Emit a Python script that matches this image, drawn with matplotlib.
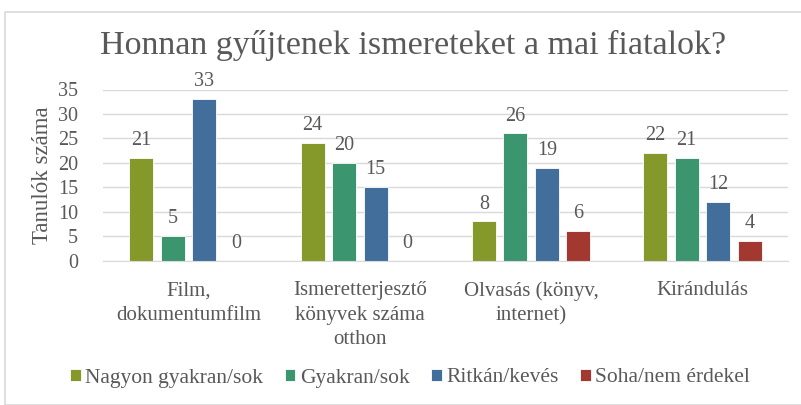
import matplotlib
matplotlib.use("Agg")
import matplotlib.pyplot as plt
import numpy as np
from matplotlib.patches import Rectangle

categories = ["Film,\ndokumentumfilm", "Ismeretterjesztő\nkönyvek száma\notthon",
              "Olvasás (könyv,\ninternet)", "Kirándulás"]
series_names = ["Nagyon gyakran/sok", "Gyakran/sok", "Ritkán/kevés", "Soha/nem érdekel"]
values = [
    [21, 24, 8, 22],
    [5, 20, 26, 21],
    [33, 15, 19, 12],
    [0, 0, 6, 4],
]
colors = ["#849929", "#3B9670", "#426E9B", "#A33830"]
yticks = [0, 5, 10, 15, 20, 25, 30, 35]

plt.rcParams['font.family'] = ['Liberation Serif', 'DejaVu Serif']
txt = "#595959"

W, H = 801, 405
fig = plt.figure(figsize=(W / 100, H / 100), dpi=100)
fig.patches.append(Rectangle((5 / W, 0), 1, 1 - 12 / H, transform=fig.transFigure,
                             fill=False, edgecolor="#D9D9D9", linewidth=1.2))

left, right, top, bottom = 103, 788, 89.5, 260.5
ax = fig.add_axes([left / W, 1 - bottom / H, (right - left) / W, (bottom - top) / H])

x = np.arange(len(categories))
bw = 0.14
step = 0.184
for i, (name, vals, c) in enumerate(zip(series_names, values, colors)):
    pos = x + (i - 1.5) * step
    ax.bar(pos, vals, width=bw, color=c, edgecolor="white", linewidth=0.6, label=name)
    for p, v in zip(pos, vals):
        ax.text(p, v + 1.6, str(v), ha="center", va="bottom", fontsize=14.5, color=txt)

ax.set_xlim(-0.5, len(categories) - 0.5)
ax.set_ylim(0, 35)
ax.set_yticks(yticks)
ax.yaxis.grid(True, color="#D9D9D9", linewidth=1)
ax.set_axisbelow(True)
for s in ["top", "right", "left"]:
    ax.spines[s].set_visible(False)
ax.spines["bottom"].set_color("#D9D9D9")
ax.tick_params(axis="y", length=0, labelsize=14.5, colors=txt, pad=18)
ax.tick_params(axis="x", length=0, colors=txt, pad=15)
ax.set_xticks(x)
ax.set_xticklabels(categories, fontsize=15, color=txt, linespacing=1.38, va="top")
ax.set_ylabel("Tanulók száma", fontsize=16.5, color=txt)
ax.yaxis.set_label_coords(-(left - 53) / (right - left), 0.5)

fig.text(413 / W, 1 - 45 / H, "Honnan gyűjtenek ismereteket a mai fiatalok?",
         ha="center", va="center", fontsize=24.5, color=txt)

leg = fig.legend(loc="center", bbox_to_anchor=(410 / W, 1 - 378 / H), ncol=4, frameon=False,
                 fontsize=15.5, handlelength=0.5, handleheight=0.5, handletextpad=0.2,
                 columnspacing=1.0, labelcolor=txt)

fig.savefig("out.png", dpi=100)
